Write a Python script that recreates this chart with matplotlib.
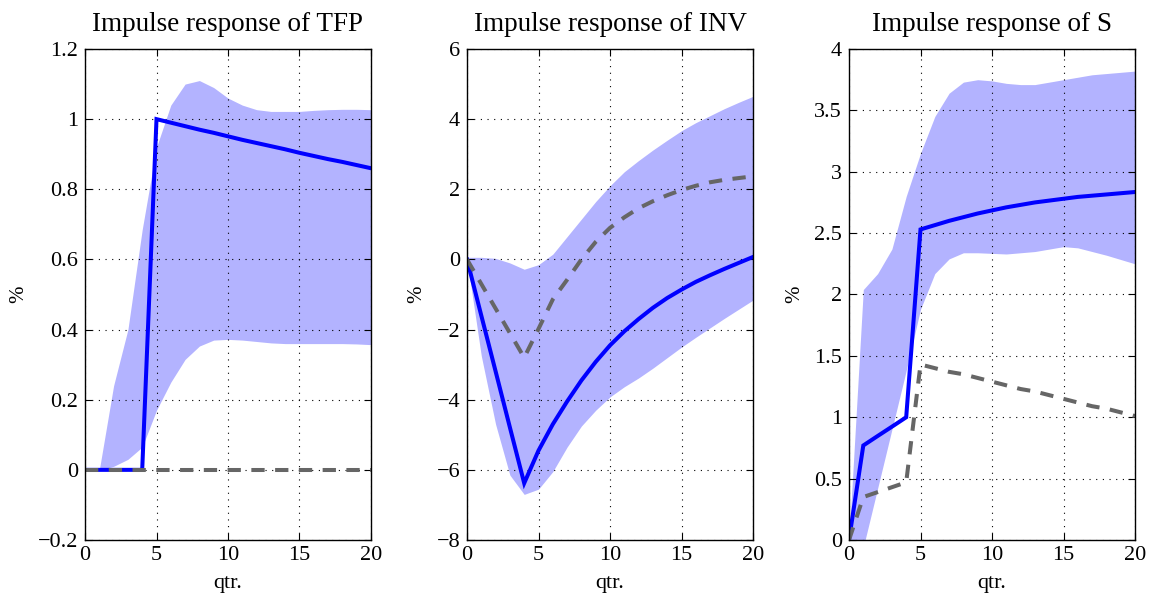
import matplotlib
matplotlib.use("Agg")
import matplotlib.pyplot as plt
import numpy as np

# ---------------- data ----------------
quarters = list(range(21))

titles = ["Impulse response of TFP", "Impulse response of INV", "Impulse response of S"]
xlabel_text = "qtr."
ylabel_text = "%"

# TFP
tfp_main = [0, 0, 0, 0, 0, 1.0, 0.99, 0.98, 0.97, 0.961, 0.951, 0.941, 0.932,
            0.923, 0.914, 0.904, 0.895, 0.886, 0.878, 0.869, 0.86]
tfp_alt = [0, 0, 0, 0, 0, 0, 0, 0, 0, 0, 0, 0, 0, 0, 0, 0, 0, 0, 0, 0, 0]
tfp_upper = [0, 0, 0.24, 0.40, 0.685, 0.92, 1.04, 1.10, 1.11, 1.09, 1.06, 1.04,
             1.027, 1.022, 1.022, 1.022, 1.025, 1.027, 1.028, 1.028, 1.027]
tfp_lower = [0, 0, 0.01, 0.03, 0.065, 0.17, 0.25, 0.315, 0.353, 0.37, 0.372, 0.37,
             0.366, 0.362, 0.36, 0.36, 0.36, 0.36, 0.36, 0.359, 0.357]

# INV
inv_main = [0, -1.6, -3.19, -4.79, -6.38, -5.45, -4.7, -4.05, -3.45, -2.92, -2.45,
            -2.05, -1.7, -1.38, -1.1, -0.86, -0.64, -0.45, -0.27, -0.1, 0.07]
inv_alt = [0, -0.7, -1.4, -2.1, -2.8, -1.98, -1.14, -0.58, 0.0, 0.5, 0.9, 1.2,
           1.46, 1.66, 1.83, 1.98, 2.1, 2.2, 2.27, 2.32, 2.37]
inv_upper = [0.06, 0.06, 0.03, -0.1, -0.28, -0.15, 0.15, 0.65, 1.15, 1.65, 2.1,
             2.5, 2.82, 3.12, 3.4, 3.67, 3.9, 4.1, 4.3, 4.48, 4.65]
inv_lower = [0, -2.75, -4.7, -6.15, -6.7, -6.55, -6.05, -5.35, -4.75, -4.3, -3.92,
             -3.63, -3.38, -3.1, -2.8, -2.5, -2.22, -1.95, -1.68, -1.42, -1.16]

# S
s_main = [0, 0.77, 0.847, 0.923, 1.0, 2.53, 2.565, 2.60, 2.63, 2.66, 2.685, 2.71,
          2.73, 2.75, 2.765, 2.78, 2.795, 2.805, 2.815, 2.825, 2.835]
s_alt = [0, 0.35, 0.39, 0.43, 0.47, 1.43, 1.40, 1.37, 1.35, 1.32, 1.29, 1.26,
         1.23, 1.21, 1.18, 1.15, 1.12, 1.09, 1.07, 1.04, 1.01]
s_upper = [0, 2.04, 2.17, 2.37, 2.8, 3.15, 3.45, 3.64, 3.73, 3.75, 3.74, 3.72,
           3.71, 3.71, 3.73, 3.75, 3.77, 3.79, 3.80, 3.81, 3.82]
s_lower = [0, -0.06, 0.42, 0.90, 1.38, 1.88, 2.17, 2.29, 2.34, 2.34, 2.335, 2.33,
           2.34, 2.35, 2.37, 2.39, 2.38, 2.35, 2.32, 2.285, 2.25]

xticks = [0, 5, 10, 15, 20]
xticklabels = ["0", "5", "10", "15", "20"]

tfp_yticks = [-0.2, 0, 0.2, 0.4, 0.6, 0.8, 1.0, 1.2]
tfp_yticklabels = ["\u22120.2", "0", "0.2", "0.4", "0.6", "0.8", "1", "1.2"]
inv_yticks = [-8, -6, -4, -2, 0, 2, 4, 6]
inv_yticklabels = ["\u22128", "\u22126", "\u22124", "\u22122", "0", "2", "4", "6"]
s_yticks = [0, 0.5, 1, 1.5, 2, 2.5, 3, 3.5, 4]
s_yticklabels = ["0", "0.5", "1", "1.5", "2", "2.5", "3", "3.5", "4"]

panels = [
    (tfp_main, tfp_alt, tfp_upper, tfp_lower, tfp_yticks, tfp_yticklabels, (-0.2, 1.2)),
    (inv_main, inv_alt, inv_upper, inv_lower, inv_yticks, inv_yticklabels, (-8, 6)),
    (s_main, s_alt, s_upper, s_lower, s_yticks, s_yticklabels, (0, 4)),
]

# ---------------- style ----------------
plt.rcParams['font.family'] = ['Liberation Serif', 'DejaVu Serif']
plt.rcParams['axes.unicode_minus'] = True

W, H = 1151, 599
fig = plt.figure(figsize=(W / 100, H / 100), dpi=100)

lefts_px = [85, 467, 849]
ax_w_px = 286
top_px, bottom_px = 49, 540

band_color = "#b3b3ff"
main_color = "#0000ff"
alt_color = "#666666"

for i, (main, alt, up, lo, yt, ytl, ylim) in enumerate(panels):
    ax = fig.add_axes([lefts_px[i] / W, 1 - bottom_px / H, ax_w_px / W,
                       (bottom_px - top_px) / H])
    ax.fill_between(quarters, lo, up, color=band_color, linewidth=0, zorder=1)
    ax.plot(quarters, main, color=main_color, lw=2.9, zorder=3,
            solid_joinstyle='miter')
    l, = ax.plot(quarters, alt, color=alt_color, lw=2.9, zorder=4)
    l.set_dashes([3.3, 2.6])
    ax.set_xlim(0, 20)
    ax.set_ylim(*ylim)
    ax.set_xticks(xticks)
    ax.set_xticklabels(xticklabels)
    ax.set_yticks(yt)
    ax.set_yticklabels(ytl)
    ax.set_axisbelow(False)
    ax.grid(True, color='black', linestyle=(0, (1, 5)), linewidth=0.8, zorder=2)
    ax.tick_params(direction='in', top=True, right=True, length=5, width=0.8,
                   labelsize=16, pad=4)
    ax.tick_params(axis='y', pad=5)
    for sp in ax.spines.values():
        sp.set_linewidth(1.0)
        sp.set_zorder(5)
    ax.set_title(titles[i], fontsize=19.5, pad=13)
    ax.set_xlabel(xlabel_text, fontsize=16, labelpad=7)
    ax.set_ylabel(ylabel_text, fontsize=15, labelpad=7)

fig.savefig("out.png", dpi=100)
